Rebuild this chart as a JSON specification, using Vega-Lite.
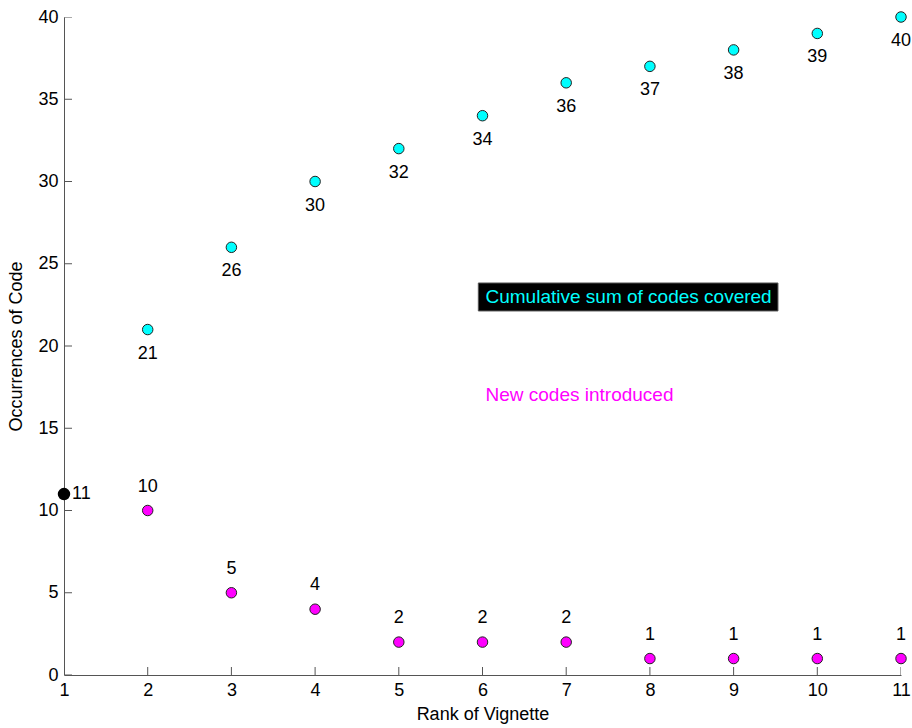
{
  "$schema": "https://vega.github.io/schema/vega-lite/v6.json",
  "width": 837,
  "height": 658,
  "autosize": "none",
  "padding": {"left": 64, "top": 17, "right": 11, "bottom": 53},
  "background": "white",
  "config": {
    "view": {"stroke": null},
    "font": "Liberation Sans",
    "axis": {
      "grid": false,
      "domainColor": "#555555",
      "labelColor": "black",
      "titleColor": "black",
      "labelFont": "Liberation Sans",
      "titleFont": "Liberation Sans",
      "labelFontSize": 18,
      "titleFontSize": 18,
      "titleFontWeight": "normal",
      "ticks": false,
      "labelPadding": 6,
      "labelFlush": false,
      "labelOverlap": false
    }
  },
  "datasets": {
    "cum": [
      {"rank": 2, "value": 21}, {"rank": 3, "value": 26}, {"rank": 4, "value": 30},
      {"rank": 5, "value": 32}, {"rank": 6, "value": 34}, {"rank": 7, "value": 36},
      {"rank": 8, "value": 37}, {"rank": 9, "value": 38}, {"rank": 10, "value": 39},
      {"rank": 11, "value": 40}
    ],
    "new": [
      {"rank": 2, "value": 10}, {"rank": 3, "value": 5}, {"rank": 4, "value": 4},
      {"rank": 5, "value": 2}, {"rank": 6, "value": 2}, {"rank": 7, "value": 2},
      {"rank": 8, "value": 1}, {"rank": 9, "value": 1}, {"rank": 10, "value": 1},
      {"rank": 11, "value": 1}
    ],
    "first": [{"rank": 1, "value": 11}],
    "xticks": [
      {"rank": 1, "value": 0}, {"rank": 2, "value": 0}, {"rank": 3, "value": 0}, {"rank": 4, "value": 0},
      {"rank": 5, "value": 0}, {"rank": 6, "value": 0}, {"rank": 7, "value": 0}, {"rank": 8, "value": 0},
      {"rank": 9, "value": 0}, {"rank": 10, "value": 0}, {"rank": 11, "value": 0}
    ],
    "yticks": [
      {"rank": 1, "value": 0}, {"rank": 1, "value": 5}, {"rank": 1, "value": 10}, {"rank": 1, "value": 15},
      {"rank": 1, "value": 20}, {"rank": 1, "value": 25}, {"rank": 1, "value": 30}, {"rank": 1, "value": 35},
      {"rank": 1, "value": 40}
    ],
    "box": [{"x": 5.95, "x2": 9.53, "y": 23.83, "y2": 22.13}],
    "notes": [
      {"rank": 6, "value": 23, "text": "Cumulative sum of codes covered", "color": "cyan"},
      {"rank": 6, "value": 17, "text": "New codes introduced", "color": "magenta"}
    ]
  },
  "encoding": {
    "x": {
      "field": "rank", "type": "quantitative",
      "scale": {"domain": [1, 11], "nice": false, "zero": false},
      "axis": {"title": "Rank of Vignette", "values": [1,2,3,4,5,6,7,8,9,10,11], "format": "d", "titlePadding": 6}
    },
    "y": {
      "field": "value", "type": "quantitative",
      "scale": {"domain": [0, 40], "nice": false},
      "axis": {"title": "Occurrences of Code", "values": [0,5,10,15,20,25,30,35,40], "titlePadding": 12}
    }
  },
  "layer": [
    {
      "data": {"name": "xticks"},
      "mark": {"type": "tick", "orient": "vertical", "size": 16, "thickness": 1, "color": "#555555", "clip": true, "opacity": 1}
    },
    {
      "data": {"name": "yticks"},
      "mark": {"type": "tick", "orient": "horizontal", "size": 16, "thickness": 1, "color": "#555555", "clip": true, "opacity": 1}
    },
    {
      "data": {"name": "box"},
      "mark": {"type": "rect", "color": "black", "stroke": "#555555", "strokeWidth": 1},
      "encoding": {
        "x": {"field": "x", "type": "quantitative"},
        "x2": {"field": "x2"},
        "y": {"field": "y", "type": "quantitative"},
        "y2": {"field": "y2"}
      }
    },
    {
      "data": {"name": "notes"},
      "mark": {"type": "text", "align": "left", "baseline": "middle", "dx": 3, "fontSize": 19},
      "encoding": {
        "text": {"field": "text"},
        "color": {"field": "color", "type": "nominal", "scale": null}
      }
    },
    {
      "data": {"name": "cum"},
      "mark": {"type": "point", "filled": true, "size": 110, "color": "#00FFFF", "stroke": "#222222", "strokeWidth": 1, "opacity": 1}
    },
    {
      "data": {"name": "cum"},
      "mark": {"type": "text", "dy": 24, "fontSize": 18, "color": "black"},
      "encoding": {"text": {"field": "value", "type": "quantitative"}}
    },
    {
      "data": {"name": "new"},
      "mark": {"type": "point", "filled": true, "size": 110, "color": "#FF00FF", "stroke": "#222222", "strokeWidth": 1, "opacity": 1}
    },
    {
      "data": {"name": "new"},
      "mark": {"type": "text", "dy": -24, "fontSize": 18, "color": "black"},
      "encoding": {"text": {"field": "value", "type": "quantitative"}}
    },
    {
      "data": {"name": "first"},
      "mark": {"type": "point", "filled": true, "size": 110, "color": "black", "stroke": "black", "opacity": 1}
    },
    {
      "data": {"name": "first"},
      "mark": {"type": "text", "align": "left", "dx": 8, "fontSize": 18, "color": "black"},
      "encoding": {"text": {"field": "value", "type": "quantitative"}}
    }
  ]
}
